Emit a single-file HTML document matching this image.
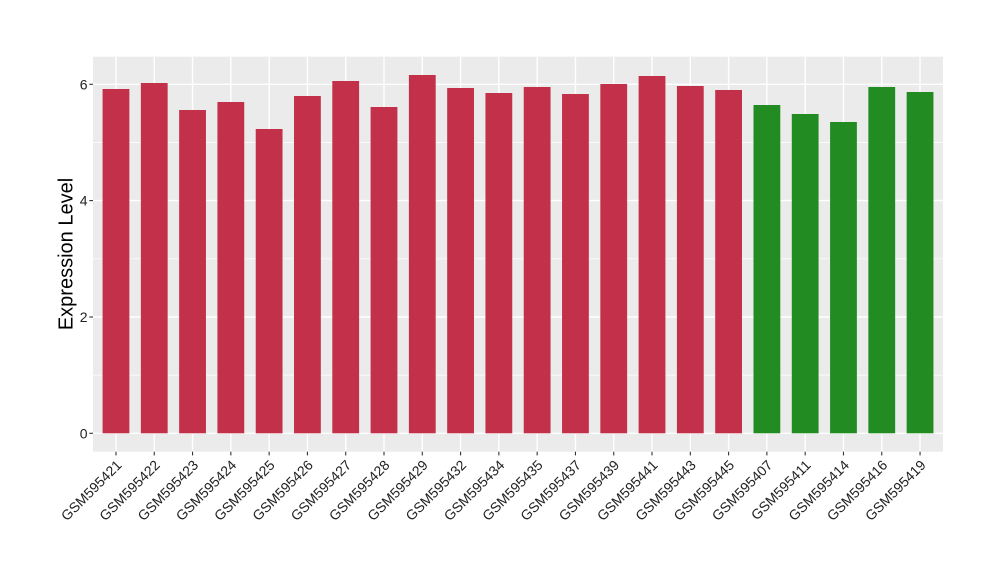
<!DOCTYPE html>
<html><head><meta charset="utf-8"><style>
html,body{margin:0;padding:0;background:#fff;}
svg{display:block;}
text{font-family:"Liberation Sans",Arial,sans-serif;}
</style></head><body>
<svg width="1000" height="580" viewBox="0 0 1000 580" xmlns="http://www.w3.org/2000/svg">
<rect x="0" y="0" width="1000" height="580" fill="#fff"/>
<rect x="93" y="56.7" width="850" height="395" fill="#EBEBEB"/>
<g stroke="#fff" stroke-width="0.7">
<line x1="93" x2="943" y1="375.1" y2="375.1"/>
<line x1="93" x2="943" y1="258.8" y2="258.8"/>
<line x1="93" x2="943" y1="142.5" y2="142.5"/>
</g>
<g stroke="#fff" stroke-width="1.4">
<line x1="93" x2="943" y1="433.3" y2="433.3"/>
<line x1="93" x2="943" y1="317.0" y2="317.0"/>
<line x1="93" x2="943" y1="200.6" y2="200.6"/>
<line x1="93" x2="943" y1="84.3" y2="84.3"/>
<line x1="115.97" x2="115.97" y1="56.7" y2="451.7"/>
<line x1="154.26" x2="154.26" y1="56.7" y2="451.7"/>
<line x1="192.55" x2="192.55" y1="56.7" y2="451.7"/>
<line x1="230.84" x2="230.84" y1="56.7" y2="451.7"/>
<line x1="269.13" x2="269.13" y1="56.7" y2="451.7"/>
<line x1="307.42" x2="307.42" y1="56.7" y2="451.7"/>
<line x1="345.71" x2="345.71" y1="56.7" y2="451.7"/>
<line x1="384.00" x2="384.00" y1="56.7" y2="451.7"/>
<line x1="422.29" x2="422.29" y1="56.7" y2="451.7"/>
<line x1="460.58" x2="460.58" y1="56.7" y2="451.7"/>
<line x1="498.86" x2="498.86" y1="56.7" y2="451.7"/>
<line x1="537.15" x2="537.15" y1="56.7" y2="451.7"/>
<line x1="575.44" x2="575.44" y1="56.7" y2="451.7"/>
<line x1="613.73" x2="613.73" y1="56.7" y2="451.7"/>
<line x1="652.02" x2="652.02" y1="56.7" y2="451.7"/>
<line x1="690.31" x2="690.31" y1="56.7" y2="451.7"/>
<line x1="728.60" x2="728.60" y1="56.7" y2="451.7"/>
<line x1="766.89" x2="766.89" y1="56.7" y2="451.7"/>
<line x1="805.18" x2="805.18" y1="56.7" y2="451.7"/>
<line x1="843.47" x2="843.47" y1="56.7" y2="451.7"/>
<line x1="881.76" x2="881.76" y1="56.7" y2="451.7"/>
<line x1="920.05" x2="920.05" y1="56.7" y2="451.7"/>
</g>
<g fill="#C23149">
<rect x="102.57" y="89" width="26.8" height="344.3"/>
<rect x="140.86" y="83" width="26.8" height="350.3"/>
<rect x="179.15" y="110" width="26.8" height="323.3"/>
<rect x="217.44" y="102" width="26.8" height="331.3"/>
<rect x="255.73" y="129" width="26.8" height="304.3"/>
<rect x="294.02" y="96" width="26.8" height="337.3"/>
<rect x="332.31" y="81" width="26.8" height="352.3"/>
<rect x="370.60" y="107" width="26.8" height="326.3"/>
<rect x="408.89" y="75" width="26.8" height="358.3"/>
<rect x="447.18" y="88" width="26.8" height="345.3"/>
<rect x="485.46" y="93" width="26.8" height="340.3"/>
<rect x="523.75" y="87" width="26.8" height="346.3"/>
<rect x="562.04" y="94" width="26.8" height="339.3"/>
<rect x="600.33" y="84" width="26.8" height="349.3"/>
<rect x="638.62" y="76" width="26.8" height="357.3"/>
<rect x="676.91" y="86" width="26.8" height="347.3"/>
<rect x="715.20" y="90" width="26.8" height="343.3"/>
</g>
<g fill="#228B22">
<rect x="753.49" y="105" width="26.8" height="328.3"/>
<rect x="791.78" y="114" width="26.8" height="319.3"/>
<rect x="830.07" y="122" width="26.8" height="311.3"/>
<rect x="868.36" y="87" width="26.8" height="346.3"/>
<rect x="906.65" y="92" width="26.8" height="341.3"/>
</g>
<g stroke="#333" stroke-width="1.1">
<line x1="89.3" x2="93" y1="433.3" y2="433.3"/>
<line x1="89.3" x2="93" y1="317.0" y2="317.0"/>
<line x1="89.3" x2="93" y1="200.6" y2="200.6"/>
<line x1="89.3" x2="93" y1="84.3" y2="84.3"/>
<line x1="115.97" x2="115.97" y1="451.7" y2="455.4"/>
<line x1="154.26" x2="154.26" y1="451.7" y2="455.4"/>
<line x1="192.55" x2="192.55" y1="451.7" y2="455.4"/>
<line x1="230.84" x2="230.84" y1="451.7" y2="455.4"/>
<line x1="269.13" x2="269.13" y1="451.7" y2="455.4"/>
<line x1="307.42" x2="307.42" y1="451.7" y2="455.4"/>
<line x1="345.71" x2="345.71" y1="451.7" y2="455.4"/>
<line x1="384.00" x2="384.00" y1="451.7" y2="455.4"/>
<line x1="422.29" x2="422.29" y1="451.7" y2="455.4"/>
<line x1="460.58" x2="460.58" y1="451.7" y2="455.4"/>
<line x1="498.86" x2="498.86" y1="451.7" y2="455.4"/>
<line x1="537.15" x2="537.15" y1="451.7" y2="455.4"/>
<line x1="575.44" x2="575.44" y1="451.7" y2="455.4"/>
<line x1="613.73" x2="613.73" y1="451.7" y2="455.4"/>
<line x1="652.02" x2="652.02" y1="451.7" y2="455.4"/>
<line x1="690.31" x2="690.31" y1="451.7" y2="455.4"/>
<line x1="728.60" x2="728.60" y1="451.7" y2="455.4"/>
<line x1="766.89" x2="766.89" y1="451.7" y2="455.4"/>
<line x1="805.18" x2="805.18" y1="451.7" y2="455.4"/>
<line x1="843.47" x2="843.47" y1="451.7" y2="455.4"/>
<line x1="881.76" x2="881.76" y1="451.7" y2="455.4"/>
<line x1="920.05" x2="920.05" y1="451.7" y2="455.4"/>
</g>
<g fill="#222" font-size="14" text-anchor="end">
<text x="87.5" y="438.3">0</text>
<text x="87.5" y="322.0">2</text>
<text x="87.5" y="205.6">4</text>
<text x="87.5" y="89.3">6</text>
</g>
<g fill="#222" font-size="14" text-anchor="end">
<text x="122.5" y="466" transform="rotate(-45 122.5 466)">GSM595421</text>
<text x="160.8" y="466" transform="rotate(-45 160.8 466)">GSM595422</text>
<text x="199.1" y="466" transform="rotate(-45 199.1 466)">GSM595423</text>
<text x="237.3" y="466" transform="rotate(-45 237.3 466)">GSM595424</text>
<text x="275.6" y="466" transform="rotate(-45 275.6 466)">GSM595425</text>
<text x="313.9" y="466" transform="rotate(-45 313.9 466)">GSM595426</text>
<text x="352.2" y="466" transform="rotate(-45 352.2 466)">GSM595427</text>
<text x="390.5" y="466" transform="rotate(-45 390.5 466)">GSM595428</text>
<text x="428.8" y="466" transform="rotate(-45 428.8 466)">GSM595429</text>
<text x="467.1" y="466" transform="rotate(-45 467.1 466)">GSM595432</text>
<text x="505.4" y="466" transform="rotate(-45 505.4 466)">GSM595434</text>
<text x="543.7" y="466" transform="rotate(-45 543.7 466)">GSM595435</text>
<text x="581.9" y="466" transform="rotate(-45 581.9 466)">GSM595437</text>
<text x="620.2" y="466" transform="rotate(-45 620.2 466)">GSM595439</text>
<text x="658.5" y="466" transform="rotate(-45 658.5 466)">GSM595441</text>
<text x="696.8" y="466" transform="rotate(-45 696.8 466)">GSM595443</text>
<text x="735.1" y="466" transform="rotate(-45 735.1 466)">GSM595445</text>
<text x="773.4" y="466" transform="rotate(-45 773.4 466)">GSM595407</text>
<text x="811.7" y="466" transform="rotate(-45 811.7 466)">GSM595411</text>
<text x="850.0" y="466" transform="rotate(-45 850.0 466)">GSM595414</text>
<text x="888.3" y="466" transform="rotate(-45 888.3 466)">GSM595416</text>
<text x="926.6" y="466" transform="rotate(-45 926.6 466)">GSM595419</text>
</g>
<text x="72.5" y="254" font-size="20" fill="#000" text-anchor="middle" transform="rotate(-90 72.5 254)">Expression Level</text>
</svg>
</body></html>
